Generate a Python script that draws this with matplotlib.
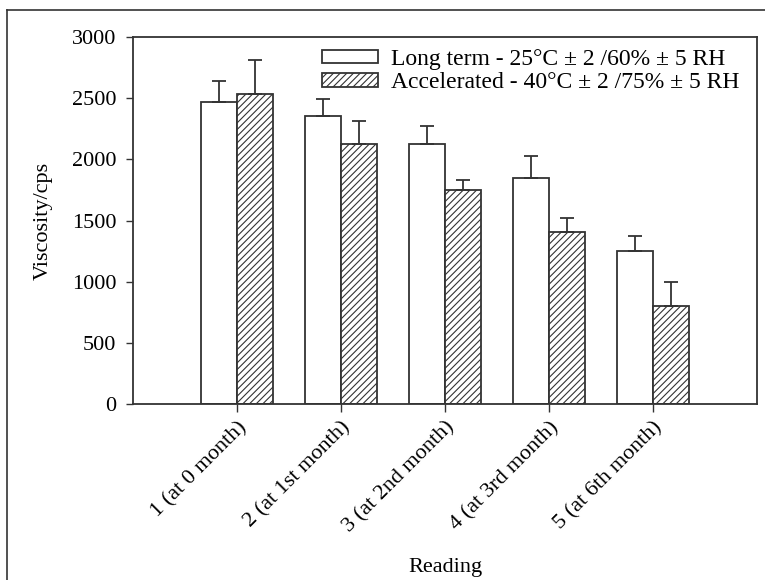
import numpy as np
import matplotlib
matplotlib.use("Agg")
from matplotlib import pyplot as plt
from matplotlib.lines import Line2D

# chart data
readings = ["1 (at 0 month)", "2 (at 1st month)", "3 (at 2nd month)",
            "4 (at 3rd month)", "5 (at 6th month)"]
long_term = [2470, 2355, 2130, 1850, 1250]
long_term_err = [175, 135, 140, 180, 125]
accelerated = [2535, 2130, 1750, 1410, 800]
accelerated_err = [280, 185, 85, 110, 195]

plt.rcParams['font.family'] = ['Liberation Serif', 'DejaVu Serif']
plt.rcParams['hatch.linewidth'] = 0.8
plt.rcParams['hatch.color'] = '#222222'

fig = plt.figure(figsize=(7.65, 5.8), dpi=100)
ax = fig.add_axes([0.1739, 0.3034, 0.8156, 0.6326])

x = np.arange(len(readings))
w = 0.35
edge = '#333333'

ax.bar(x - w / 2, long_term, w, color='white', edgecolor=edge, linewidth=1.3,
       label="Long term - 25°C ± 2 /60% ± 5 RH")
ax.bar(x + w / 2, accelerated, w, color='white', edgecolor=edge, linewidth=1.3,
       hatch='/////', label="Accelerated - 40°C ± 2 /75% ± 5 RH")

# upward error bars only
ax.errorbar(x - w / 2, long_term, yerr=[np.zeros(len(x)), long_term_err],
            fmt='none', ecolor=edge, elinewidth=1.3, capsize=4.7, capthick=1.3)
ax.errorbar(x + w / 2, accelerated, yerr=[np.zeros(len(x)), accelerated_err],
            fmt='none', ecolor=edge, elinewidth=1.3, capsize=4.7, capthick=1.3)

ax.set_xlim(-1, 5)
ax.set_ylim(0, 3000)
ax.set_yticks(np.arange(0, 3001, 500))
ax.set_xticks(x)
ax.set_xticklabels(readings, rotation=45, ha='right', va='top',
                   rotation_mode='anchor', fontsize=16)
ax.tick_params(axis='y', direction='out', length=5, width=1, labelsize=16,
               color=edge, pad=7)
ax.tick_params(axis='x', direction='out', length=6, width=1, color=edge, pad=4)
for s in ax.spines.values():
    s.set_color(edge)
    s.set_linewidth(1.3)

ax.set_ylabel("Viscosity/cps", fontsize=16, labelpad=14)
ax.set_xlabel("Reading", fontsize=16, labelpad=15)

ax.legend(loc='upper right', frameon=False, fontsize=17, handlelength=2.35,
          handleheight=0.5, handletextpad=0.55, labelspacing=0.1,
          borderaxespad=0.1, bbox_to_anchor=(0.99, 1.0))

# outer frame lines (left and top) of the original figure
fig.add_artist(Line2D([7 / 765, 7 / 765], [0, 1 - 10 / 580], color=edge, lw=1.2))
fig.add_artist(Line2D([7 / 765, 1], [1 - 10 / 580, 1 - 10 / 580], color=edge, lw=1.2))

fig.savefig("out.png", dpi=100)
